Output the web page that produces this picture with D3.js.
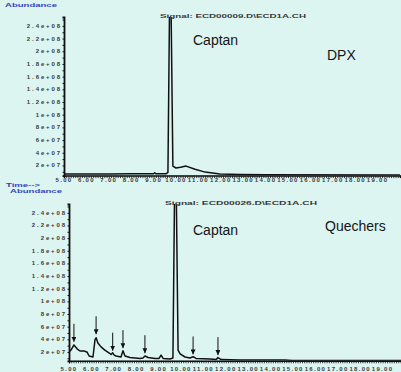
<!DOCTYPE html>
<html>
<head>
<meta charset="utf-8">
<script src="https://cdn.jsdelivr.net/npm/d3@7"></script>
<style>
  body { margin: 0; background: #dcf5f1; }
  svg { display: block; font-family: "Liberation Sans", Arial, sans-serif; }
  .tick-lbl { font-size: 6px; font-weight: bold; fill: #3a3a3a; }
  .blue { font-size: 5.5px; font-weight: bold; fill: #3344bb; }
  .trace { fill: none; stroke: #111; stroke-width: 1.5; stroke-linejoin: round; }
</style>
</head>
<body>
<div id="chart"></div>
<script>
// tick labels
var yTicks = [2e7, 4e7, 6e7, 8e7, 1e8, 1.2e8, 1.4e8, 1.6e8, 1.8e8, 2e8, 2.2e8, 2.4e8];
var yTickLabels = ["2e+07", "4e+07", "6e+07", "8e+07", "1e+08", "1.2e+08", "1.4e+08",
                   "1.6e+08", "1.8e+08", "2e+08", "2.2e+08", "2.4e+08"];
var xTicks = [5, 6, 7, 8, 9, 10, 11, 12, 13, 14, 15, 16, 17, 18, 19];
var xTickLabels = ["5.00", "6.00", "7.00", "8.00", "9.00", "10.00", "11.00", "12.00",
                   "13.00", "14.00", "15.00", "16.00", "17.00", "18.00", "19.00"];

// DPX trace: [time min, abundance]
var dpxTrace = [
  [5.0, 6.5e6], [6.0, 6.6e6], [7.0, 6.7e6], [8.0, 6.8e6], [9.0, 6.8e6],
  [9.05, 8.5e6], [9.1, 6.8e6], [9.55, 6.8e6], [9.64, 9e6],
  [9.72, 3e8], [9.77, 3e8], [9.86, 1.9e7], [10.0, 1.6e7], [10.2, 1.7e7],
  [10.45, 1.9e7], [10.85, 1.4e7], [11.3, 9.5e6], [11.96, 6.5e6],
  [12.86, 5.8e6], [14.0, 5.2e6], [20.0, 5e6]
];

// Quechers trace: [time min, abundance]
var quechersTrace = [
  [5.0, 2.0e7], [5.09, 2.3e7], [5.22, 3.1e7], [5.36, 2.5e7], [5.49, 2.15e7],
  [5.67, 2.15e7], [5.8, 2.0e7], [5.9, 1.36e7], [6.07, 1.2e7], [6.16, 3.9e7],
  [6.21, 4.25e7], [6.29, 3.4e7], [6.43, 2.8e7], [6.6, 2.3e7], [6.83, 1.75e7],
  [6.88, 1.6e7], [6.95, 1.85e7], [7.02, 1.5e7], [7.1, 1.36e7], [7.32, 1.2e7],
  [7.41, 2.2e7], [7.5, 1.36e7], [7.72, 1.12e7], [8.17, 9.7e6], [8.3, 1.04e7],
  [8.39, 1.36e7], [8.53, 1.12e7], [8.84, 9.7e6], [9.02, 9.7e6], [9.11, 1.5e7],
  [9.2, 9.7e6], [9.51, 8.9e6], [9.64, 1.04e7], [9.72, 3e8], [9.78, 3e8],
  [9.87, 2.3e7], [9.96, 1.7e7], [10.18, 1.2e7], [10.4, 1.04e7], [10.54, 1.25e7],
  [10.67, 9.7e6], [11.3, 8.9e6], [11.57, 8e6], [11.65, 1.1e7], [11.79, 8e6],
  [12.63, 7.3e6], [14.64, 7.3e6], [14.96, 6.4e6], [20.0, 6.3e6]
];

// arrows over the Quechers peaks: [time, abundance at the tip]
var quechersArrows = [
  [5.22, 3.6e7], [6.21, 4.8e7], [6.95, 2.2e7], [7.41, 2.6e7],
  [8.39, 1.8e7], [10.54, 1.6e7], [11.65, 1.5e7]
];

var W = 401, H = 372;

var svg = d3.select("#chart").append("svg")
    .attr("width", W)
    .attr("height", H);

svg.append("rect").attr("width", W).attr("height", H).attr("fill", "#dcf5f1");

svg.append("defs").append("marker")
    .attr("id", "head")
    .attr("viewBox", "0 0 6 6")
    .attr("refX", 6).attr("refY", 3)
    .attr("markerWidth", 5).attr("markerHeight", 5)
    .attr("markerUnits", "userSpaceOnUse")
    .attr("orient", "auto")
  .append("path")
    .attr("d", "M0,0L6,3L0,6Z")
    .attr("fill", "#111");

function panel(cfg) {
  var x = d3.scaleLinear().domain([5, 20]).range(cfg.xRange);
  var y = d3.scaleLinear().domain(cfg.yDomain).range(cfg.yRange);
  var g = svg.append("g");

  var clipId = "clip" + cfg.id;
  svg.select("defs").append("clipPath").attr("id", clipId)
    .append("rect")
      .attr("x", cfg.xRange[0]).attr("y", cfg.yRange[1])
      .attr("width", W - cfg.xRange[0]).attr("height", cfg.yRange[0] - cfg.yRange[1]);

  // x axis: dense ruler ticks
  var minor = d3.range(5, 20.01, 0.1);
  g.append("g")
    .attr("transform", "translate(0," + cfg.yRange[0] + ")")
    .call(d3.axisBottom(x).tickValues(minor).tickSize(2.5).tickFormat(""))
    .call(function(a) {
      a.select(".domain").attr("stroke", "#111").attr("stroke-width", 1.5);
      a.selectAll(".tick line").attr("stroke", "#111").attr("stroke-width", 0.8);
    });

  g.selectAll(".xl")
    .data(xTicks)
  .enter().append("text")
    .attr("class", "tick-lbl")
    .attr("x", function(d) { return x(d); })
    .attr("y", cfg.xLabelY)
    .attr("text-anchor", "middle")
    .attr("letter-spacing", 1.3)
    .text(function(d, i) { return xTickLabels[i]; });

  // y axis
  g.append("g")
    .attr("transform", "translate(" + cfg.xRange[0] + ",0)")
    .call(d3.axisLeft(y).tickValues(d3.range(1e7, 2.54e8, 1e7)).tickSize(1.5).tickFormat(""))
    .call(function(a) {
      a.select(".domain").attr("stroke", "#111").attr("stroke-width", 1.8);
      a.selectAll(".tick line").attr("stroke", "#111");
    });

  g.selectAll(".yl")
    .data(yTicks)
  .enter().append("text")
    .attr("class", "tick-lbl")
    .attr("x", cfg.xRange[0] - 2)
    .attr("y", function(d) { return y(d) + 2; })
    .attr("text-anchor", "end")
    .attr("letter-spacing", 1.9)
    .text(function(d, i) { return yTickLabels[i]; });

  var line = d3.line()
    .x(function(d) { return x(d[0]); })
    .y(function(d) { return y(d[1]); });

  g.append("path")
    .datum(cfg.trace)
    .attr("class", "trace")
    .attr("clip-path", "url(#" + clipId + ")")
    .attr("d", line);

  (cfg.arrows || []).forEach(function(a) {
    g.append("line")
      .attr("x1", x(a[0])).attr("x2", x(a[0]))
      .attr("y1", y(a[1]) - 18).attr("y2", y(a[1]))
      .attr("stroke", "#111").attr("stroke-width", 1)
      .attr("marker-end", "url(#head)");
  });

  g.append("text")
    .attr("class", "tick-lbl")
    .attr("x", cfg.signalX).attr("y", cfg.signalY)
    .attr("textLength", cfg.signalW)
    .attr("lengthAdjust", "spacingAndGlyphs")
    .text(cfg.signal);

  cfg.names.forEach(function(n) {
    g.append("text")
      .attr("x", n.x).attr("y", n.y)
      .attr("font-size", 14)
      .attr("fill", "#151515")
      .text(n.text);
  });
}

panel({
  id: 1,
  xRange: [64, 400],
  yDomain: [4e6, 2.54e8],
  yRange: [175.6, 17],
  xLabelY: 182,
  trace: dpxTrace,
  signal: "Signal: ECD00009.D\\ECD1A.CH",
  signalX: 160, signalY: 17.5, signalW: 146,
  names: [{text: "Captan", x: 193, y: 45}, {text: "DPX", x: 327, y: 60}]
});

panel({
  id: 2,
  xRange: [69, 405],
  yDomain: [6e6, 2.54e8],
  yRange: [360.8, 204],
  xLabelY: 370.5,
  trace: quechersTrace,
  arrows: quechersArrows,
  signal: "Signal: ECD00026.D\\ECD1A.CH",
  signalX: 165, signalY: 205, signalW: 152,
  names: [{text: "Captan", x: 193, y: 235}, {text: "Quechers", x: 325, y: 231}]
});

svg.append("text").attr("class", "blue").attr("x", 5).attr("y", 6.5)
    .attr("textLength", 52).attr("lengthAdjust", "spacingAndGlyphs").text("Abundance");
svg.append("text").attr("class", "blue").attr("x", 6).attr("y", 187)
    .attr("textLength", 34).attr("lengthAdjust", "spacingAndGlyphs").text("Time-->");
svg.append("text").attr("class", "blue").attr("x", 10).attr("y", 192.5)
    .attr("textLength", 52).attr("lengthAdjust", "spacingAndGlyphs").text("Abundance");
</script>
</body>
</html>
